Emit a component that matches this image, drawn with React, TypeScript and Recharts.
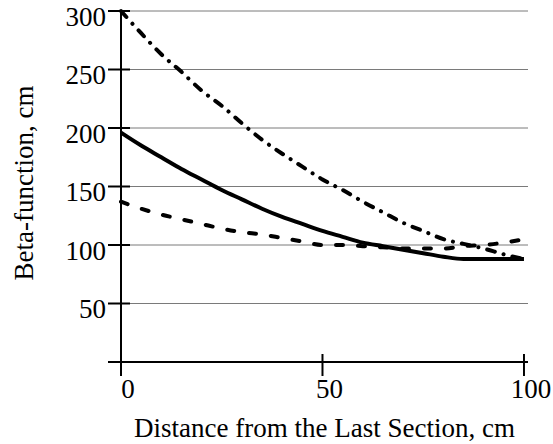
import React from "react";
import { LineChart, Line, XAxis, YAxis, CartesianGrid } from "recharts";

// Distance along the beamline, cm
const distance = [0, 5, 10, 15, 20, 25, 30, 35, 40, 45, 50, 55, 60, 65, 70, 75, 80, 85, 90, 95, 100];

// Beta-function, cm
const betaSolid = [196, 185, 175, 165, 156, 147, 139, 131, 124, 118, 112, 107, 102, 99, 96, 93, 90, 88, 88, 88, 88];
const betaDashed = [137, 131, 126, 122, 118, 114, 111, 109, 106, 103, 100, 100, 99, 98, 97, 97, 97, 99, 100, 102, 105];
const betaDashDot = [300, 281, 263, 248, 232, 219, 204, 190, 178, 167, 156, 147, 137, 128, 119, 112, 105, 101, 97, 92, 88];

const xTicks = [0, 50, 100];
const yTicks = [0, 50, 100, 150, 200, 250, 300];

const xTitle = "Distance from the Last Section, cm";
const yTitle = "Beta-function, cm";

const rows = distance.map((d, i) => ({
  d,
  solid: betaSolid[i],
  dashed: betaDashed[i],
  dashDot: betaDashDot[i],
}));

const FONT = "'Liberation Serif', 'Times New Roman', serif";
const FONT_SIZE = 27;

const XTick = (props: any) => {
  const { x, y, payload } = props;
  return (
    <g>
      <line x1={x} x2={x} y1={y - 10} y2={y + 12} stroke="#000" strokeWidth={2} />
      <text x={x + 7} y={y + 34} textAnchor="middle" fontFamily={FONT} fontSize={FONT_SIZE} fill="#000">
        {payload.value}
      </text>
    </g>
  );
};

const YTick = (props: any) => {
  const { x, y, payload } = props;
  return (
    <g>
      <line x1={x - 11} x2={x + 11} y1={y} y2={y} stroke="#000" strokeWidth={2} />
      {payload.value !== 0 && (
        <text x={x - 13} y={y + 14.5} textAnchor="end" fontFamily={FONT} fontSize={FONT_SIZE} fill="#000">
          {payload.value}
        </text>
      )}
    </g>
  );
};

export default function App() {
  return (
    <div style={{ position: "absolute", left: 0, top: 0, background: "#fff" }}>
      <LineChart width={553} height={444} data={rows} margin={{ top: 11, right: 25, bottom: 0, left: 0 }}>
        <CartesianGrid horizontal vertical={false} stroke="#7a7a7a" strokeWidth={1} />
        <XAxis
          dataKey="d"
          type="number"
          domain={[0, 101]}
          ticks={xTicks}
          height={82}
          tickSize={0}
          tickLine={false}
          axisLine={{ stroke: "#000", strokeWidth: 2 }}
          tick={<XTick />}
          interval={0}
          label={(p: any) => {
            const vb = p.viewBox;
            return (
              <text
                x={vb.x + vb.width / 2}
                y={vb.y + 75}
                textAnchor="middle"
                fontFamily={FONT}
                fontSize={FONT_SIZE}
                fill="#000"
              >
                {xTitle}
              </text>
            );
          }}
        />
        <YAxis
          type="number"
          domain={[0, 300]}
          ticks={yTicks}
          width={121}
          tickSize={0}
          tickLine={false}
          axisLine={{ stroke: "#000", strokeWidth: 2 }}
          tick={<YTick />}
          interval={0}
          label={() => (
            <text
              x={33}
              y={183}
              transform="rotate(-90 33 183)"
              textAnchor="middle"
              fontFamily={FONT}
              fontSize={FONT_SIZE}
              fill="#000"
            >
              {yTitle}
            </text>
          )}
        />
        <Line
          type="monotone"
          dataKey="solid"
          stroke="#000"
          strokeWidth={4}
          dot={false}
          isAnimationActive={false}
        />
        <Line
          type="monotone"
          dataKey="dashed"
          stroke="#000"
          strokeWidth={4}
          strokeDasharray="7 15"
          strokeLinecap="round"
          dot={false}
          isAnimationActive={false}
        />
        <Line
          type="monotone"
          dataKey="dashDot"
          stroke="#000"
          strokeWidth={4}
          strokeDasharray="8 9 0.1 9"
          strokeLinecap="round"
          dot={false}
          isAnimationActive={false}
        />
      </LineChart>
    </div>
  );
}
